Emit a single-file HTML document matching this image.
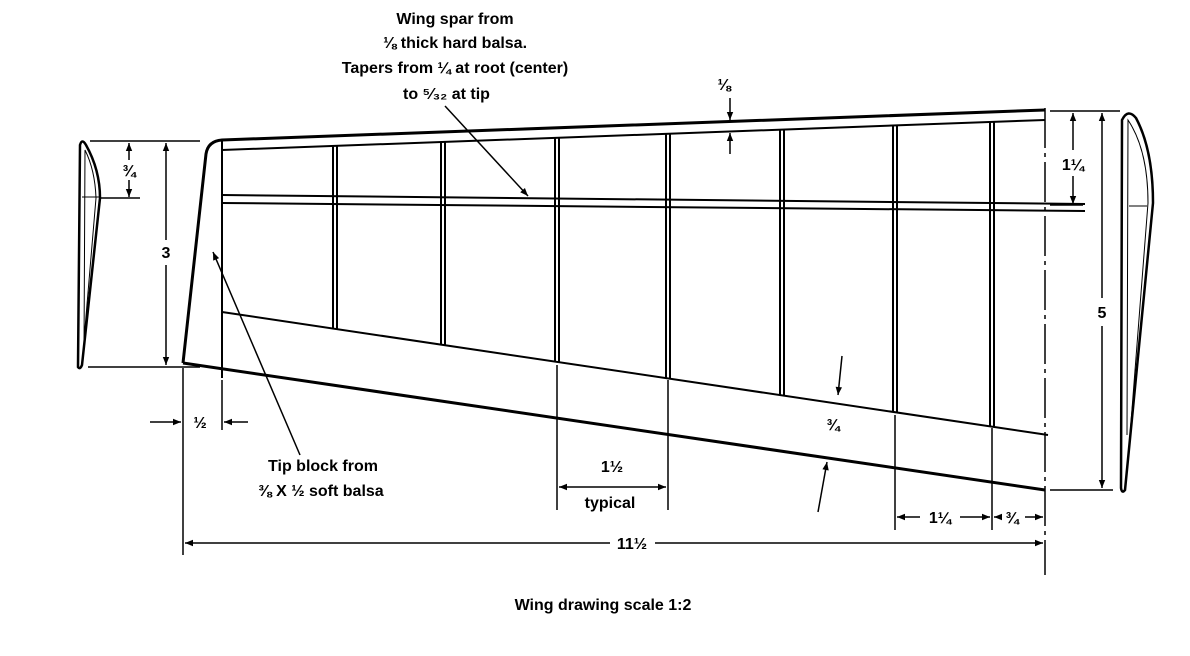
<!DOCTYPE html>
<html><head><style>
html,body{margin:0;padding:0;background:#fff;}
svg{display:block;}
text{font-family:"Liberation Sans",sans-serif;font-weight:bold;font-size:16px;fill:#000;}
</style></head><body>
<svg width="1190" height="656" viewBox="0 0 1190 656" xmlns="http://www.w3.org/2000/svg">
<defs>
<marker id="a" viewBox="0 0 10 10" refX="10" refY="5" markerWidth="10" markerHeight="8" orient="auto-start-reverse" markerUnits="userSpaceOnUse">
<path d="M0,1 L10,5 L0,9 Z" fill="#000"/></marker>
</defs>
<g stroke="#000" fill="none" stroke-width="2">
<path d="M183,363 L206,154 Q208,141 222,140 L1045,110" stroke-width="3"/>
<line x1="222" y1="150" x2="1045" y2="120"/>
<line x1="183" y1="363" x2="1045" y2="490" stroke-width="3"/>
<line x1="222" y1="312" x2="1048" y2="435"/>
<line x1="222" y1="140" x2="222" y2="378"/>
<line x1="222" y1="195" x2="1085" y2="204"/>
<line x1="222" y1="203" x2="1085" y2="211"/>
<g stroke-width="2">
<line x1="333" y1="146" x2="333" y2="329"/><line x1="337" y1="146" x2="337" y2="329"/>
<line x1="441" y1="142" x2="441" y2="345"/><line x1="445" y1="142" x2="445" y2="345"/>
<line x1="555" y1="138" x2="555" y2="362"/><line x1="559" y1="138" x2="559" y2="362"/>
<line x1="666" y1="134" x2="666" y2="378"/><line x1="670" y1="134" x2="670" y2="378"/>
<line x1="780" y1="130" x2="780" y2="395"/><line x1="784" y1="130" x2="784" y2="395"/>
<line x1="893" y1="126" x2="893" y2="412"/><line x1="897" y1="126" x2="897" y2="412"/>
<line x1="990" y1="122" x2="990" y2="426"/><line x1="994" y1="122" x2="994" y2="426"/>
</g>
<g stroke-width="1.5">
<line x1="557" y1="365" x2="557" y2="510"/>
<line x1="668" y1="380" x2="668" y2="510"/>
<line x1="895" y1="415" x2="895" y2="530"/>
<line x1="992" y1="428" x2="992" y2="530"/>
<line x1="183" y1="368" x2="183" y2="555"/>
<line x1="222" y1="380" x2="222" y2="430"/>
<line x1="1045" y1="108" x2="1045" y2="575" stroke-dasharray="40,5,4,5"/>
<line x1="1050" y1="111" x2="1120" y2="111"/>
<line x1="1050" y1="490" x2="1113" y2="490"/>
<line x1="1050" y1="205" x2="1083" y2="205"/>
<line x1="90" y1="141" x2="200" y2="141"/>
<line x1="88" y1="367" x2="200" y2="367"/>
<line x1="100" y1="198" x2="140" y2="198"/>
</g>
<path d="M78,367 L80,145 Q82,138 86,145 Q100,170 100,198 L82,365 Q80,370 78,367 Z" stroke-width="2.5"/>
<path d="M84,350 L85,150 Q95,170 96,198 L84,340" stroke-width="1"/>
<line x1="82" y1="197" x2="99" y2="197" stroke-width="1"/>
<path d="M1121,488 L1122,120 Q1128,108 1136,118 Q1153,150 1153,203 L1125,490 Q1122,494 1121,488 Z" stroke-width="2.5"/>
<path d="M1127,435 L1128,120 Q1148,150 1148,203 L1130,435" stroke-width="1"/>
<line x1="1129" y1="206" x2="1147" y2="206" stroke-width="1"/>
<g stroke-width="1.5">
<line x1="166" y1="143" x2="166" y2="240" marker-start="url(#a)"/>
<line x1="166" y1="265" x2="166" y2="365" marker-end="url(#a)"/>
<line x1="129" y1="143" x2="129" y2="160" marker-start="url(#a)"/>
<line x1="129" y1="180" x2="129" y2="197" marker-end="url(#a)"/>
<line x1="1073" y1="113" x2="1073" y2="150" marker-start="url(#a)"/>
<line x1="1073" y1="176" x2="1073" y2="204" marker-end="url(#a)"/>
<line x1="1102" y1="113" x2="1102" y2="298" marker-start="url(#a)"/>
<line x1="1102" y1="326" x2="1102" y2="488" marker-end="url(#a)"/>
<line x1="730" y1="98" x2="730" y2="120" marker-end="url(#a)"/>
<line x1="730" y1="154" x2="730" y2="133" marker-end="url(#a)"/>
<line x1="150" y1="422" x2="181" y2="422" marker-end="url(#a)"/>
<line x1="248" y1="422" x2="224" y2="422" marker-end="url(#a)"/>
<line x1="559" y1="487" x2="666" y2="487" marker-start="url(#a)" marker-end="url(#a)"/>
<line x1="897" y1="517" x2="920" y2="517" marker-start="url(#a)"/>
<line x1="960" y1="517" x2="990" y2="517" marker-end="url(#a)"/>
<line x1="994" y1="517" x2="1000" y2="517" marker-start="url(#a)"/>
<line x1="1025" y1="517" x2="1043" y2="517" marker-end="url(#a)"/>
<line x1="185" y1="543" x2="610" y2="543" marker-start="url(#a)"/>
<line x1="655" y1="543" x2="1043" y2="543" marker-end="url(#a)"/>
<line x1="842" y1="356" x2="838" y2="395" marker-end="url(#a)"/>
<line x1="818" y1="512" x2="827" y2="462" marker-end="url(#a)"/>
<line x1="445" y1="106" x2="528" y2="196" marker-end="url(#a)"/>
<line x1="300" y1="455" x2="213" y2="252" marker-end="url(#a)"/>
</g>
</g>
<g text-anchor="middle">
<text x="166" y="258">3</text>
<text x="129" y="176" font-size="13">¾</text>
<text x="1073" y="170">1¼</text>
<text x="1102" y="318">5</text>
<text x="724" y="90" font-size="14">⅛</text>
<text x="200" y="428">½</text>
<text x="612" y="472">1½</text>
<text x="610" y="508">typical</text>
<text x="833" y="430">¾</text>
<text x="940" y="523">1¼</text>
<text x="1012" y="523">¾</text>
<text x="632" y="549">11½</text>
<text x="455" y="24">Wing spar from</text>
<text x="455" y="48">⅛ thick hard balsa.</text>
<text x="455" y="73">Tapers from ¼ at root (center)</text>
<text x="323" y="471">Tip block from</text>
<text x="321" y="496">⅜ X ½ soft balsa</text>
<text x="603" y="610">Wing drawing scale 1:2</text>
</g>
<text x="403" y="99">to ⁵⁄₃₂ at tip</text>
</svg>
</body></html>
